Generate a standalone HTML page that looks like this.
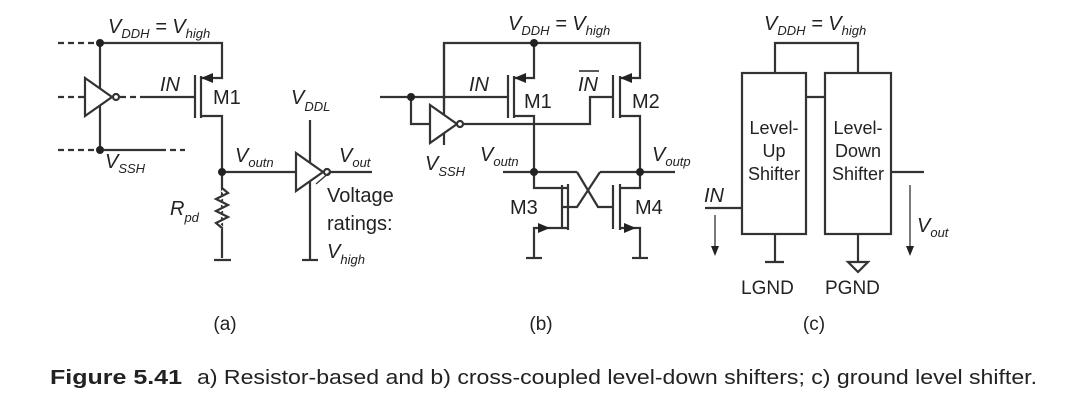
<!DOCTYPE html>
<html><head><meta charset="utf-8"><style>
html,body{margin:0;padding:0;background:#fff;}
svg{display:block;}
text{font-family:"Liberation Sans",sans-serif;fill:#222;}
.i{font-style:italic;}
</style></head><body>
<svg width="1091" height="406" viewBox="0 0 1091 406" xmlns="http://www.w3.org/2000/svg">
<g stroke="#333" stroke-width="2.2" fill="none">
<!-- Panel a -->
<line x1="58" y1="43" x2="100" y2="43" stroke-dasharray="6,4"/>
<polyline points="100,43 222,43 222,78 201,78"/>
<line x1="100" y1="43" x2="100" y2="150"/>
<line x1="58" y1="97" x2="85" y2="97" stroke-dasharray="6,4"/>
<polygon points="85,78 85,116 112,97" fill="#fff"/>
<circle cx="116" cy="97" r="3" fill="#fff"/>
<line x1="120" y1="97" x2="145" y2="97" stroke-dasharray="6,4"/>
<line x1="145" y1="97" x2="195" y2="97"/>
<line x1="195" y1="75" x2="195" y2="118"/>
<line x1="201" y1="76" x2="201" y2="118"/>
<polyline points="201,116 222,116 222,258"/>
<line x1="58" y1="150" x2="100" y2="150" stroke-dasharray="6,4"/>
<line x1="100" y1="150" x2="160" y2="150"/>
<line x1="160" y1="150" x2="185" y2="150" stroke-dasharray="6,4"/>
<polyline points="222,190 228,194 216,200 228,206 216,212 228,218 216,224 222,228" fill="none" stroke="#fff" stroke-width="4"/>
<polyline points="222,188 228,193 216,199 228,205 216,211 228,217 216,223 222,228"/>
<line x1="214" y1="260" x2="231" y2="260"/>
<line x1="222" y1="172" x2="296" y2="172"/>
<line x1="310" y1="120" x2="310" y2="260"/>
<line x1="302" y1="260" x2="318" y2="260"/>
<polygon points="296,153 296,191 323,172" fill="#fff"/>
<circle cx="327" cy="172" r="3" fill="#fff"/>
<line x1="330" y1="172" x2="372" y2="172"/>
<line x1="316" y1="184" x2="330" y2="172" stroke-width="1.3"/>
<!-- Panel b -->
<polyline points="444,145 444,43 640,43 640,78 620,78"/>
<polyline points="534,43 534,78 514,78"/>
<line x1="380" y1="97" x2="508" y2="97"/>
<polyline points="411,97 411,124 430,124"/>
<polygon points="430,105 430,143 457,124" fill="#fff"/>
<line x1="444" y1="43" x2="444" y2="110"/>
<circle cx="460" cy="124" r="3" fill="#fff"/>
<polyline points="463,124 590,124 590,97 613,97"/>
<line x1="508" y1="75" x2="508" y2="118"/>
<line x1="514" y1="76" x2="514" y2="118"/>
<line x1="613" y1="75" x2="613" y2="118"/>
<line x1="620" y1="76" x2="620" y2="118"/>
<polyline points="514,116 534,116 534,188 568,188"/>
<polyline points="620,116 640,116 640,188 620,188"/>
<line x1="503" y1="172" x2="577" y2="172"/>
<polyline points="577,172 598,207 613,207"/>
<line x1="600" y1="172" x2="675" y2="172"/>
<polyline points="600,172 577,207 562,207"/>
<line x1="562" y1="185" x2="562" y2="229"/>
<line x1="568" y1="184" x2="568" y2="230"/>
<line x1="613" y1="185" x2="613" y2="229"/>
<line x1="620" y1="184" x2="620" y2="230"/>
<polyline points="568,228 534,228 534,258"/>
<polyline points="620,228 640,228 640,258"/>
<line x1="526" y1="258" x2="542" y2="258"/>
<line x1="632" y1="258" x2="648" y2="258"/>
<!-- Panel c -->
<rect x="742" y="73" width="64" height="161"/>
<rect x="825" y="73" width="66" height="161"/>
<polyline points="775,73 775,43 858,43 858,73"/>
<line x1="806" y1="97" x2="825" y2="97"/>
<line x1="705" y1="208" x2="742" y2="208"/>
<line x1="891" y1="172" x2="924" y2="172"/>
<line x1="775" y1="234" x2="775" y2="262"/>
<line x1="765" y1="262" x2="784" y2="262"/>
<line x1="858" y1="234" x2="858" y2="262"/>
<polygon points="848,262 868,262 858,272"/>
<line x1="715" y1="215" x2="715" y2="248" stroke-width="1.3"/>
<line x1="910" y1="185" x2="910" y2="248" stroke-width="1.3"/>
</g>
<g fill="#222">
<circle cx="100" cy="43" r="4"/><circle cx="100" cy="150" r="4"/><circle cx="222" cy="172" r="4"/>
<polygon points="201,78 213,73 213,83"/>
<circle cx="534" cy="43" r="4"/><circle cx="411" cy="97" r="4"/><circle cx="534" cy="172" r="4"/><circle cx="640" cy="172" r="4"/>
<polygon points="514,78 526,73 526,83"/>
<polygon points="620,78 632,73 632,83"/>
<polygon points="550,228 538,223 538,233"/>
<polygon points="636,228 624,223 624,233"/>
<polygon points="711,246 719,246 715,256"/>
<polygon points="906,246 914,246 910,256"/>
</g>
<g font-size="20">
<text x="108" y="33" class="i">V<tspan font-size="13" dy="5">DDH</tspan><tspan dy="-5"> = V</tspan><tspan font-size="13" dy="5">high</tspan></text>
<text x="160" y="91" class="i">IN</text>
<text x="213" y="104">M1</text>
<text x="105" y="168" class="i">V<tspan font-size="13" dy="5">SSH</tspan></text>
<text x="235" y="162" class="i">V<tspan font-size="13" dy="5">outn</tspan></text>
<text x="170" y="215" class="i">R<tspan font-size="13" dy="7">pd</tspan></text>
<text x="291" y="104" class="i">V<tspan font-size="13" dy="7">DDL</tspan></text>
<text x="339" y="162" class="i">V<tspan font-size="13" dy="5">out</tspan></text>
<text x="327" y="202">Voltage</text>
<text x="327" y="230">ratings:</text>
<text x="327" y="258" class="i">V<tspan font-size="13" dy="6">high</tspan></text>

<text x="508" y="30" class="i">V<tspan font-size="13" dy="5">DDH</tspan><tspan dy="-5"> = V</tspan><tspan font-size="13" dy="5">high</tspan></text>
<text x="469" y="91" class="i">IN</text>
<text x="578" y="91" class="i">IN</text>
<line x1="579" y1="71" x2="599" y2="71" stroke="#222" stroke-width="1.5"/>
<text x="524" y="108">M1</text>
<text x="632" y="108">M2</text>
<text x="425" y="170" class="i">V<tspan font-size="13" dy="6">SSH</tspan></text>
<text x="480" y="161" class="i">V<tspan font-size="13" dy="5">outn</tspan></text>
<text x="652" y="161" class="i">V<tspan font-size="13" dy="5">outp</tspan></text>
<text x="510" y="214">M3</text>
<text x="635" y="214">M4</text>

<text x="764" y="30" class="i">V<tspan font-size="13" dy="5">DDH</tspan><tspan dy="-5"> = V</tspan><tspan font-size="13" dy="5">high</tspan></text>
<g font-size="18" text-anchor="middle">
<text x="774" y="134">Level-</text><text x="774" y="157">Up</text><text x="774" y="180">Shifter</text>
<text x="858" y="134">Level-</text><text x="858" y="157">Down</text><text x="858" y="180">Shifter</text>
</g>
<text x="704" y="202" class="i">IN</text>
<text x="917" y="232" class="i">V<tspan font-size="13" dy="5">out</tspan></text>
<text x="741" y="294" font-size="19">LGND</text>
<text x="825" y="294" font-size="19">PGND</text>

<text x="225" y="330" text-anchor="middle" font-size="19">(a)</text>
<text x="541" y="330" text-anchor="middle" font-size="19">(b)</text>
<text x="814" y="330" text-anchor="middle" font-size="19">(c)</text>
<text x="50" y="384" font-size="20" font-weight="bold" textLength="132" lengthAdjust="spacingAndGlyphs">Figure 5.41</text>
<text x="197" y="384" font-size="20" textLength="840" lengthAdjust="spacingAndGlyphs">a) Resistor-based and b) cross-coupled level-down shifters; c) ground level shifter.</text>
</g>
</svg>
</body></html>
